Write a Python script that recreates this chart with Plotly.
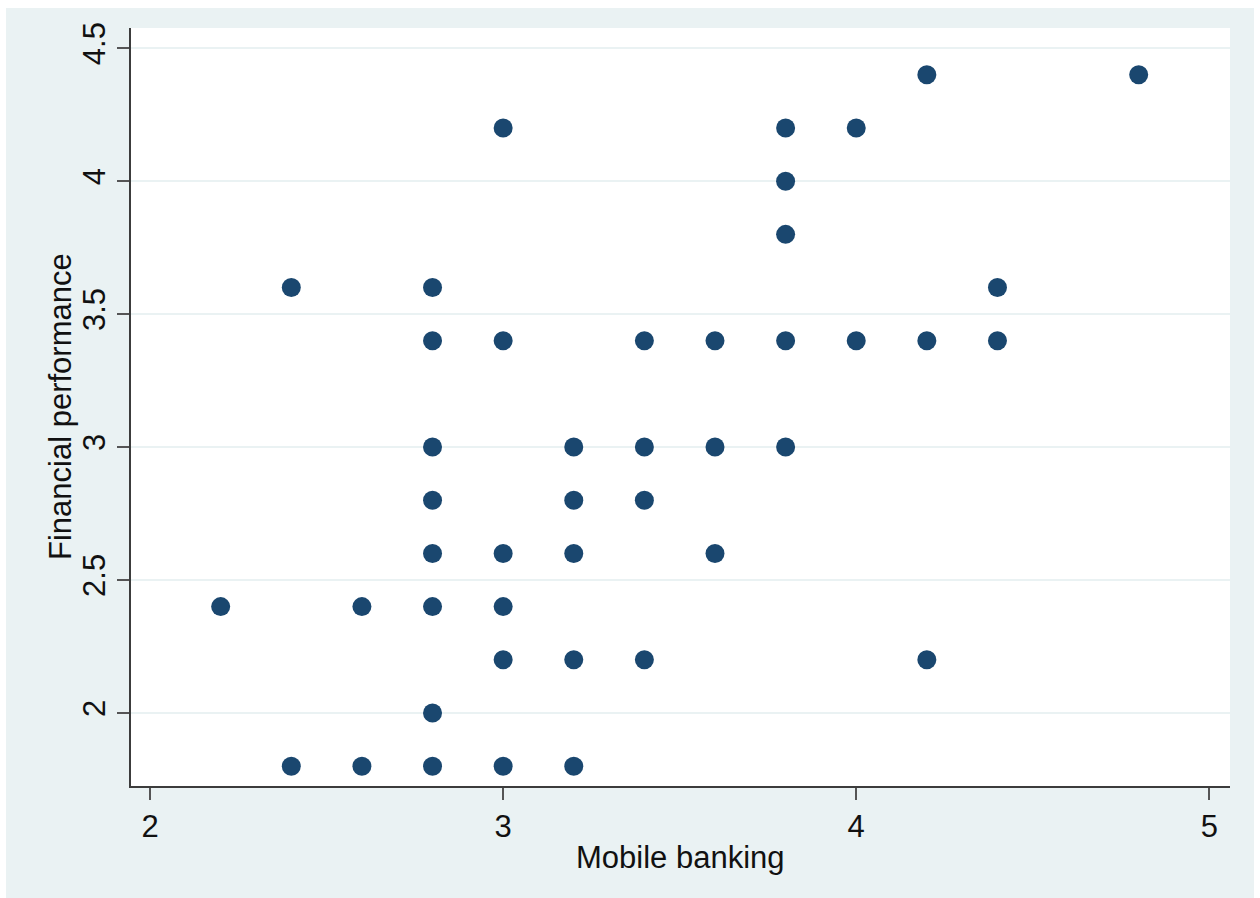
import plotly.graph_objects as go

# Survey scores: mobile banking adoption vs. financial performance
mobile_banking = [
    4.2, 4.8,
    3.0, 3.8, 4.0,
    3.8,
    3.8,
    2.4, 2.8, 4.4,
    2.8, 3.0, 3.4, 3.6, 3.8, 4.0, 4.2, 4.4,
    2.8, 3.2, 3.4, 3.6, 3.8,
    2.8, 3.2, 3.4,
    2.8, 3.0, 3.2, 3.6,
    2.2, 2.6, 2.8, 3.0,
    3.0, 3.2, 3.4, 4.2,
    2.8,
    2.4, 2.6, 2.8, 3.0, 3.2,
]
financial_performance = [
    4.4, 4.4,
    4.2, 4.2, 4.2,
    4.0,
    3.8,
    3.6, 3.6, 3.6,
    3.4, 3.4, 3.4, 3.4, 3.4, 3.4, 3.4, 3.4,
    3.0, 3.0, 3.0, 3.0, 3.0,
    2.8, 2.8, 2.8,
    2.6, 2.6, 2.6, 2.6,
    2.4, 2.4, 2.4, 2.4,
    2.2, 2.2, 2.2, 2.2,
    2.0,
    1.8, 1.8, 1.8, 1.8, 1.8,
]
x_ticks = [2, 3, 4, 5]
y_ticks = [2, 2.5, 3, 3.5, 4, 4.5]
x_title = "Mobile banking"
y_title = "Financial performance"

W, H = 1260, 898
ML, MR, MT, MB = 131, 30, 28, 112
PW, PH = W - ML - MR, H - MT - MB

BG = "#EAF2F3"
NAVY = "#1A476F"
TXT = "#111111"
FONT = "Liberation Sans, Arial, sans-serif"


def px_x(p):
    return (p - ML) / PW


def px_y(p):
    return (H - MB - p) / PH


fig = go.Figure()
fig.add_trace(go.Scatter(
    x=mobile_banking,
    y=financial_performance,
    mode="markers",
    marker=dict(size=19, color=NAVY, line=dict(width=0)),
    showlegend=False,
    hoverinfo="x+y",
))

# thin white page border around the tinted graph region
for x0, x1, y0, y1 in [(0, 6, 0, H), (1254, W, 0, H), (0, W, 0, 8)]:
    fig.add_shape(
        type="rect", xref="paper", yref="paper", layer="below",
        x0=px_x(x0), x1=px_x(x1), y0=px_y(y1), y1=px_y(y0),
        fillcolor="white", line=dict(width=0),
    )

axis_common = dict(
    showline=True, linecolor="#3C3C3C", linewidth=2,
    ticks="outside", ticklen=12, tickwidth=2, tickcolor="#555555",
    tickfont=dict(family=FONT, size=31, color=TXT),
    zeroline=False,
)

fig.update_xaxes(
    range=[1.946, 5.0586],
    tickvals=x_ticks, ticktext=[str(v) for v in x_ticks],
    showgrid=False,
    **axis_common,
)
fig.update_yaxes(
    range=[1.7254, 4.576],
    tickvals=y_ticks, ticktext=[f"{v:g}" for v in y_ticks],
    tickangle=-90,
    showgrid=True, gridcolor=BG, gridwidth=2,
    **axis_common,
)

# axis titles
fig.add_annotation(
    text=x_title, xref="paper", yref="paper",
    x=px_x(680), y=px_y(857), xanchor="center", yanchor="middle",
    showarrow=False, font=dict(family=FONT, size=31, color=TXT),
)
fig.add_annotation(
    text=y_title, xref="paper", yref="paper", textangle=-90,
    x=px_x(60), y=px_y(407), xanchor="center", yanchor="middle",
    showarrow=False, font=dict(family=FONT, size=31, color=TXT),
)

fig.update_layout(
    width=W, height=H,
    margin=dict(l=ML, r=MR, t=MT, b=MB, autoexpand=False),
    paper_bgcolor=BG,
    plot_bgcolor="white",
    font=dict(family=FONT),
)

fig.write_html("out.html")
